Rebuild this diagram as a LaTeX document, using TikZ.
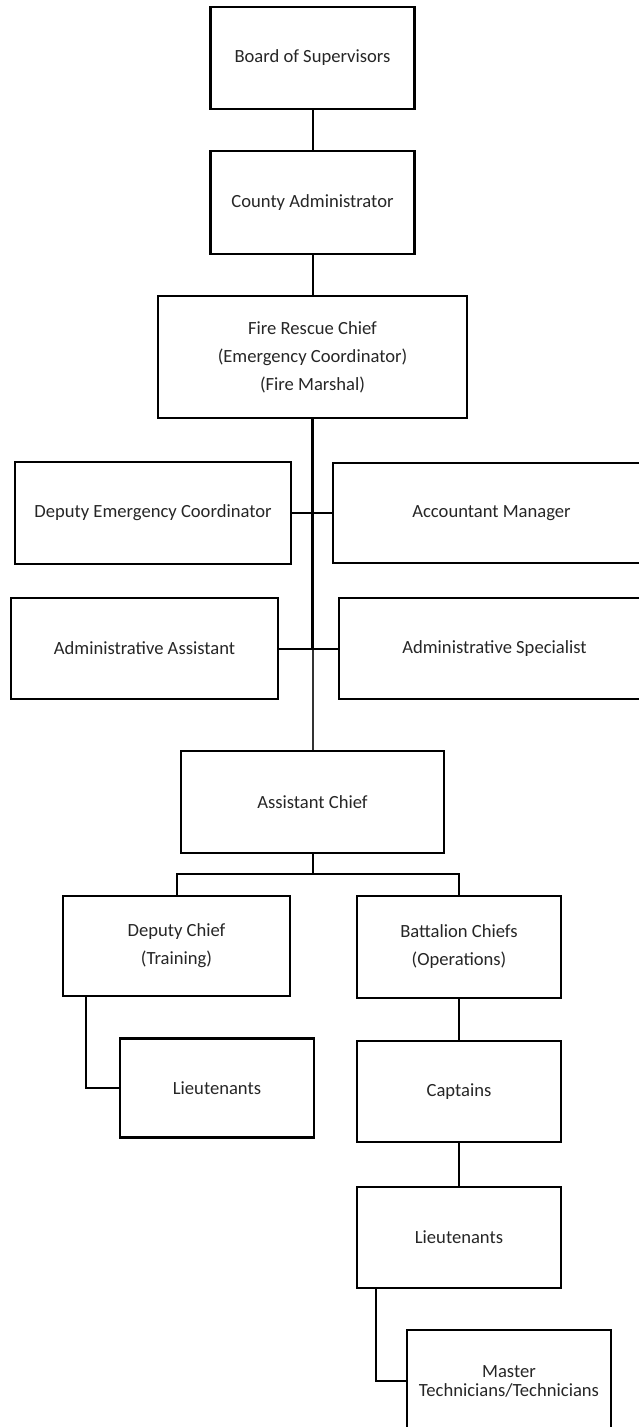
\documentclass[tikz,border=0pt]{standalone}
\usepackage{fontspec}
\setmainfont{Carlito}
\usepackage{tikz}
\usetikzlibrary{positioning}
\usetikzlibrary{calc}
\tikzstyle{coord} = [coordinate]
\tikzstyle{post} = [draw=black, line width=2.2pt, rectangle, inner sep=0pt, align=center, text=black!85, font=\fontsize{18.6}{28}\selectfont]
\tikzstyle{link} = [line width=2pt]

\begin{document}
\begin{tikzpicture}[x=1pt, y=-1pt]

    \useasboundingbox (0,0) rectangle (639,1427);
    \clip (0,0) rectangle (639,1427);

    % top of the chain
    \node[post, minimum width=204pt, minimum height=102pt] (board) at (312.5,58) {Board of Supervisors};
    \node[post, minimum width=204pt, minimum height=103pt] (county) at (312.5,202.5) {County Administrator};
    \node[post, minimum width=309pt, minimum height=122pt] (fire) at (312.5,357) {Fire Rescue Chief\\(Emergency Coordinator)\\(Fire Marshal)};

    % staff on both sides
    \node[post, minimum width=276pt, minimum height=102pt] (dec) at (153,513) {Deputy Emergency Coordinator};
    \node[post, minimum width=317pt, minimum height=100pt] (acct) at (491.5,513) {Accountant Manager};
    \node[post, minimum width=267pt, minimum height=101pt] (aa) at (144.5,648.5) {Administrative Assistant};
    \node[post, minimum width=311pt, minimum height=101pt] (as) at (494.5,648.5) {Administrative Specialist};

    \node[post, minimum width=263pt, minimum height=102pt] (asst) at (312.5,802) {Assistant Chief};

    % left
    \node[post, minimum width=227pt, minimum height=100pt] (dchief) at (176.5,946) {Deputy Chief\\(Training)};
    \node[post, minimum width=194pt, minimum height=99pt] (lt1) at (217,1088) {Lieutenants};

    % right
    \node[post, minimum width=204pt, minimum height=102pt] (bchief) at (459,947) {Battalion Chiefs\\(Operations)};
    \node[post, minimum width=204pt, minimum height=101pt] (capt) at (459,1091.5) {Captains};
    \node[post, minimum width=204pt, minimum height=101pt] (lt2) at (459,1237.5) {Lieutenants};
    \node[post, minimum width=204pt, minimum height=102pt, font=\fontsize{18.6}{19}\selectfont] (master) at (509,1381) {Master\\Technicians/Technicians};

    \coordinate (j2) at (312.5,648.5);
    \coordinate (j3) at (312.5,874);

    \draw[link] (board) -- (county);
    \draw[link] (county) -- (fire);
    \draw[line width=3pt] (fire.south) -- (j2);
    \draw[line width=2pt, black!80] (j2) -- (asst.north);
    \draw[link] (dec.east) -- (acct.west);
    \draw[link] (aa.east) -- (as.west);

    \draw[link] (asst.south) -- (j3);
    \draw[link] (dchief.north) |- (j3) -| (bchief.north);
    \draw[link] (dchief.south west) ++(24,0) |- (lt1.west);

    \draw[link] (bchief) -- (capt);
    \draw[link] (capt) -- (lt2);
    \draw[link] (lt2.south west) ++(20,0) |- (master.west);

\end{tikzpicture}
\end{document}
